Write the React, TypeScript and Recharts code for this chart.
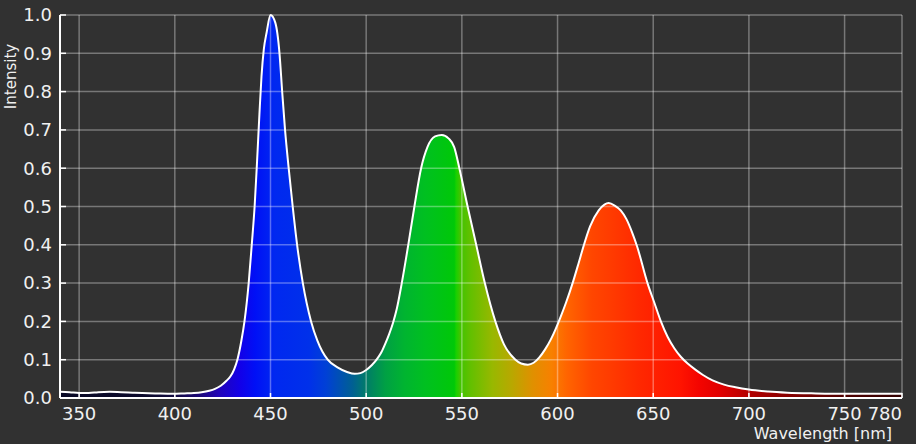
import React from 'react';
import { AreaChart, Area, XAxis, YAxis, ReferenceLine } from 'recharts';

const wavelengths = [
  340, 345, 350, 355, 360, 366, 372, 378, 383, 390, 399, 405, 410, 414, 418, 421, 424, 427, 429, 431,
  432.7, 434.8, 436.4, 438.6, 440.2, 441.7, 443, 444.2, 445.3, 446.5, 448, 450, 452.5, 454.7, 456.1,
  457.6, 459.5, 461.6, 463.9, 466.9, 471.2, 474.5, 479.9, 485, 490, 494, 497, 500, 503, 506, 508, 510,
  512, 514, 516, 518.6, 522, 525.2, 528.7, 532, 536, 539.5, 543, 546, 548.7, 553, 557.5, 562, 567.5, 572,
  578, 581, 584.5, 587.5, 590.5, 593.5, 596.5, 599, 601.3, 604.5, 608, 611, 613.5, 617, 621.5, 624.5,
  626.7, 630, 633, 636, 639, 641.5, 647, 650.5, 654, 657.5, 661, 664.5, 668, 672, 676, 681, 687, 693,
  700, 710, 720, 735, 750, 765, 780,
];

const intensity = [
  0.016, 0.015, 0.013, 0.013, 0.015, 0.016, 0.015, 0.014, 0.013, 0.012, 0.011, 0.012, 0.013, 0.015, 0.019,
  0.024, 0.032, 0.045, 0.056, 0.075, 0.1, 0.15, 0.2, 0.3, 0.4, 0.5, 0.62, 0.74, 0.84, 0.91, 0.955, 1.0,
  0.98, 0.9, 0.8, 0.7, 0.6, 0.5, 0.4, 0.3, 0.2, 0.15, 0.1, 0.08, 0.068, 0.063, 0.065, 0.073, 0.086, 0.104,
  0.12, 0.142, 0.167, 0.196, 0.233, 0.3, 0.4, 0.5, 0.6, 0.655, 0.683, 0.687, 0.678, 0.655, 0.6, 0.5, 0.4,
  0.3, 0.2, 0.14, 0.1, 0.09, 0.087, 0.092, 0.106, 0.127, 0.153, 0.18, 0.208, 0.25, 0.302, 0.352, 0.395,
  0.448, 0.49, 0.505, 0.509, 0.502, 0.49, 0.467, 0.432, 0.397, 0.3, 0.25, 0.2, 0.16, 0.13, 0.107, 0.09,
  0.074, 0.06, 0.046, 0.035, 0.028, 0.022, 0.017, 0.014, 0.012, 0.011, 0.011, 0.011,
];

const xTicks = [350, 400, 450, 500, 550, 600, 650, 700, 750, 780];
const yTicks = [0, 0.1, 0.2, 0.3, 0.4, 0.5, 0.6, 0.7, 0.8, 0.9, 1.0];
const xTitle = 'Wavelength [nm]';
const yTitle = 'Intensity';

const spectrumStops: [number, string][] = [
  [340, '#0a0a26'],
  [385, '#0c0a2c'],
  [400, '#120a40'],
  [413, '#1c0878'],
  [423, '#2204b8'],
  [434, '#1200e8'],
  [442, '#0010f6'],
  [452, '#0028f0'],
  [470, '#0030ea'],
  [479, '#0040d6'],
  [486, '#0050b4'],
  [493, '#006092'],
  [500, '#007c68'],
  [510, '#00a044'],
  [520, '#00b430'],
  [531, '#00c020'],
  [546, '#00c808'],
  [547, '#18d000'],
  [549, '#40c400'],
  [554, '#60c000'],
  [566, '#98b800'],
  [576, '#b8a800'],
  [587, '#e09000'],
  [597, '#f88000'],
  [605, '#ff6400'],
  [618, '#ff4600'],
  [627, '#ff3c00'],
  [643, '#ff2800'],
  [664, '#ff1400'],
  [674, '#f40400'],
  [685, '#e00000'],
  [700, '#b40000'],
  [716, '#900000'],
  [750, '#500000'],
  [780, '#300000'],
];

const data = wavelengths.map((w, i) => ({ w, v: intensity[i] }));

const FONT = '"DejaVu Sans", Verdana, sans-serif';
const TEXT = '#f0f0f0';
const GRID = 'rgba(255,255,255,0.34)';

const XTick = (props: any) => {
  const { x, y, payload } = props;
  const last = payload.value === xTicks[xTicks.length - 1];
  return (
    <text
      x={x}
      y={y}
      dy="0.71em"
      textAnchor={last ? 'end' : 'middle'}
      fill={TEXT}
      fontSize={18}
      fontFamily={FONT}
    >
      {payload.value}
    </text>
  );
};

export default function App() {
  const lo = wavelengths[0];
  const hi = wavelengths[wavelengths.length - 1];
  return (
    <div style={{ position: 'absolute', left: 0, top: 0, width: 916, height: 444, background: '#313131' }}>
      <AreaChart width={916} height={444} data={data} margin={{ top: 15, right: 14, bottom: 0, left: 0 }}>
        <defs>
          <linearGradient id="spectrum" x1="0" y1="0" x2="1" y2="0">
            {spectrumStops.map(([nm, c]) => (
              <stop key={nm} offset={`${((nm - lo) / (hi - lo)) * 100}%`} stopColor={c} />
            ))}
          </linearGradient>
        </defs>
        <XAxis
          dataKey="w"
          type="number"
          domain={[lo, hi]}
          ticks={xTicks}
          height={46}
          axisLine={{ stroke: '#ffffff', strokeWidth: 2 }}
          tickLine={{ stroke: '#ffffff', strokeWidth: 1.5 }}
          tickSize={-5}
          tickMargin={14}
          tick={<XTick />}
          interval={0}
          label={(p: any) => (
            <text x={892} y={439} textAnchor="end" fill={TEXT} fontSize={16} fontFamily={FONT}>
              {xTitle}
            </text>
          )}
        />
        <YAxis
          type="number"
          domain={[0, 1]}
          ticks={yTicks}
          width={60}
          interval={0}
          axisLine={{ stroke: '#ffffff', strokeWidth: 2 }}
          tickLine={{ stroke: '#ffffff', strokeWidth: 1.5 }}
          tickSize={-6}
          tickMargin={14}
          tickFormatter={(v: number) => v.toFixed(1)}
          tick={{ fill: TEXT, fontSize: 18, fontFamily: FONT }}
          label={(p: any) => (
            <text
              x={0}
              y={0}
              transform="translate(15.5, 76.5) rotate(-90)"
              textAnchor="middle"
              fill={TEXT}
              fontSize={15}
              fontFamily={FONT}
            >
              {yTitle}
            </text>
          )}
        />
        <Area
          type="monotone"
          dataKey="v"
          stroke="#ffffff"
          strokeWidth={2}
          fill="url(#spectrum)"
          fillOpacity={1}
          dot={false}
          activeDot={false}
          isAnimationActive={false}
        />
        {xTicks.map((t) => (
          <ReferenceLine key={`x${t}`} x={t} stroke={GRID} strokeWidth={1.5} />
        ))}
        {yTicks.slice(1).map((t) => (
          <ReferenceLine key={`y${t}`} y={t} stroke={GRID} strokeWidth={1.5} />
        ))}
      </AreaChart>
    </div>
  );
}
